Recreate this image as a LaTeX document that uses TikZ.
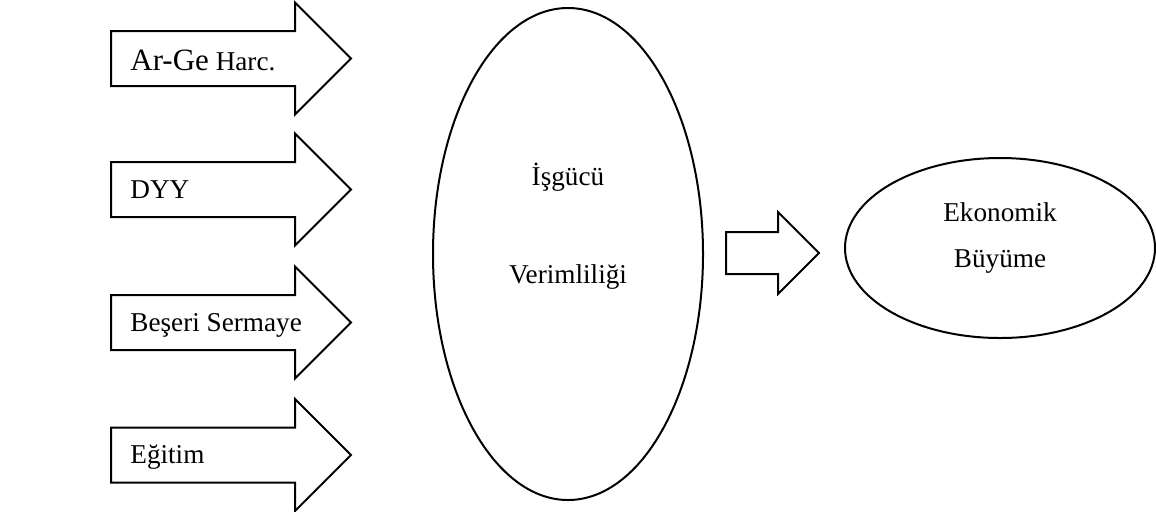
\documentclass[tikz,border=0pt]{standalone}
\usepackage{fontspec}
\setmainfont{Liberation Serif}
\usepackage{tikz}
\usetikzlibrary{shapes,arrows,positioning}
\tikzstyle{inarrow} = [single arrow,draw=black,fill=white,line width=1pt,inner xsep=0pt,inner ysep=13.25pt,minimum height=120pt,minimum width=55pt,single arrow head extend=14.25pt,single arrow tip angle=90,anchor=tail]
\tikzstyle{outarrow} = [single arrow,draw=black,fill=white,line width=1pt,inner xsep=0pt,inner ysep=10pt,minimum height=46.5pt,minimum width=40pt,single arrow head extend=10pt,single arrow tip angle=90,anchor=tail]
\tikzstyle{bigell} = [ellipse,draw=black,fill=white,line width=1pt,inner sep=0pt]
\tikzstyle{lbl} = [inner sep=0pt,text height=8.9pt,text depth=0pt,font=\fontsize{13.6}{16}\selectfont]

\begin{document}
\begin{tikzpicture}[x=0.5pt,y=-0.5pt]
\useasboundingbox (0,0) rectangle (1156,511);
\node (arge) [inarrow] at (110,58.5) {};
\node (dyy) [inarrow] at (110,189.5) {};
\node (beseri) [inarrow] at (110,322.5) {};
\node (egitim) [inarrow] at (110,455) {};
\node (argetxt) [lbl,text height=12pt,right=10pt of arge.tail] {{\fontsize{15.5}{18}\selectfont Ar-Ge} Harc.};
\node (dyytxt) [lbl,right=10pt of dyy.tail] {DYY};
\node (beseritxt) [lbl,right=10pt of beseri.tail] {Beşeri Sermaye};
\node (egitimtxt) [lbl,right=10pt of egitim.tail] {Eğitim};

\node (isgucu) [bigell,minimum width=135pt,minimum height=246pt] at (568,254) {};
\node (isgtxt) [lbl] at ([yshift=38.9pt]isgucu.center) {İşgücü};
\node (vertxt) [lbl,below of=isgtxt,node distance=49pt] {Verimliliği};

\node (next) [outarrow] at (725,253) {};

\node (buyume) [bigell,minimum width=155pt,minimum height=90pt] at (1000,248) {};
\node (ekotxt) [lbl] at ([yshift=17.75pt]buyume.center) {Ekonomik};
\node (buytxt) [lbl,below of=ekotxt,node distance=23.25pt] {Büyüme};
\end{tikzpicture}
\end{document}
